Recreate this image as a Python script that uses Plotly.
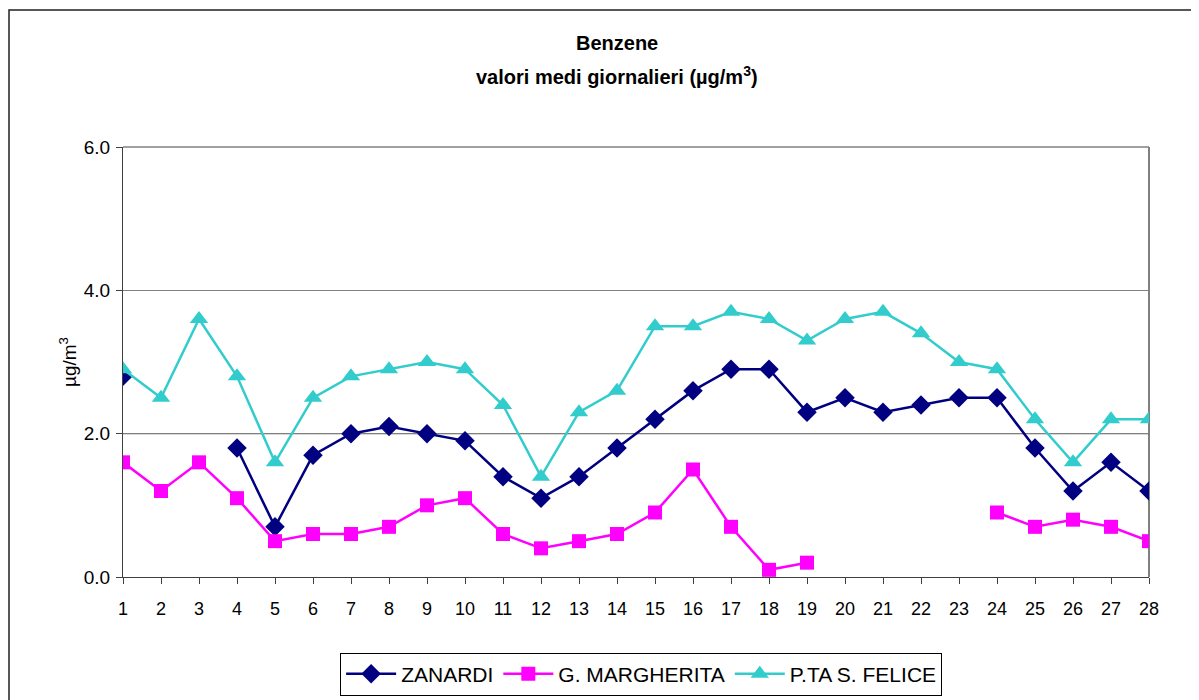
import plotly.graph_objects as go

days = list(range(1, 29))
zanardi = [2.8, None, None, 1.8, 0.7, 1.7, 2.0, 2.1, 2.0, 1.9, 1.4, 1.1, 1.4, 1.8,
           2.2, 2.6, 2.9, 2.9, 2.3, 2.5, 2.3, 2.4, 2.5, 2.5, 1.8, 1.2, 1.6, 1.2]
margherita = [1.6, 1.2, 1.6, 1.1, 0.5, 0.6, 0.6, 0.7, 1.0, 1.1, 0.6, 0.4, 0.5, 0.6,
              0.9, 1.5, 0.7, 0.1, 0.2, None, None, None, None, 0.9, 0.7, 0.8, 0.7, 0.5]
felice = [2.9, 2.5, 3.6, 2.8, 1.6, 2.5, 2.8, 2.9, 3.0, 2.9, 2.4, 1.4, 2.3, 2.6,
          3.5, 3.5, 3.7, 3.6, 3.3, 3.6, 3.7, 3.4, 3.0, 2.9, 2.2, 1.6, 2.2, 2.2]
y_ticks = [0, 2, 4, 6]
y_tick_labels = ["0.0", "2.0", "4.0", "6.0"]

FONT = "Arial, Liberation Sans, sans-serif"

fig = go.Figure()
fig.add_trace(go.Scatter(x=days, y=zanardi, name="ZANARDI", mode="lines+markers",
                         line=dict(color="#000080", width=2.5),
                         marker=dict(symbol="diamond", size=15, color="#000080")))
fig.add_trace(go.Scatter(x=days, y=margherita, name="G. MARGHERITA", mode="lines+markers",
                         line=dict(color="#FF00FF", width=2.5),
                         marker=dict(symbol="square", size=14, color="#FF00FF")))
fig.add_trace(go.Scatter(x=days, y=felice, name="P.TA S. FELICE", mode="lines+markers",
                         line=dict(color="#33CCCC", width=2.5),
                         marker=dict(symbol="triangle-up", size=16, color="#33CCCC")))

fig.update_layout(
    width=1191, height=700,
    margin=dict(l=115, r=50, t=139, b=131, autoexpand=False),
    paper_bgcolor="white", plot_bgcolor="white",
    font=dict(family=FONT, size=18, color="black"),
    showlegend=True,
    legend=dict(orientation="h", x=0.505, xanchor="center", y=-0.176, yanchor="top",
                bgcolor="white", bordercolor="black", borderwidth=1,
                font=dict(family=FONT, size=21, color="black"),
                itemwidth=50, tracegroupgap=0),
    xaxis=dict(range=[1, 28], tickmode="array", tickvals=days,
               ticktext=[str(d) for d in days],
               showgrid=False, zeroline=False, showline=True, linecolor="#404040",
               linewidth=1, ticks="outside", ticklen=6, tickcolor="#404040",
               ticklabelstandoff=9,
               tickfont=dict(family=FONT, size=18)),
    yaxis=dict(range=[0, 6], tickmode="array", tickvals=y_ticks, ticktext=y_tick_labels,
               showgrid=True, gridcolor="#808080", gridwidth=1, zeroline=False,
               showline=True, linecolor="#404040", linewidth=1,
               ticks="outside", ticklen=6, tickcolor="#404040",
               ticklabelstandoff=2,
               tickfont=dict(family=FONT, size=19),
               title=dict(text="µg/m<sup>3</sup>", standoff=2,
                          font=dict(family=FONT, size=19))),
    annotations=[
        dict(text="<b>Benzene</b>", xref="paper", yref="paper", x=0.4815, y=1 + (139 - 35) / 430,
             xanchor="center", yanchor="middle", showarrow=False,
             font=dict(family=FONT, size=20, color="black")),
        dict(text="<b>valori medi giornalieri (µg/m<sup>3</sup>)</b>", xref="paper", yref="paper",
             x=0.4815, y=1 + (139 - 67) / 430, xanchor="center", yanchor="middle",
             showarrow=False, font=dict(family=FONT, size=20, color="black")),
    ],
)

# plot-area border (top, right) and black reference line at 2.0
fig.add_shape(type="line", xref="x domain", yref="y domain", x0=0, x1=1, y0=1, y1=1,
              line=dict(color="#808080", width=1.5), layer="below")
fig.add_shape(type="line", xref="x domain", yref="y domain", x0=1, x1=1, y0=0, y1=1,
              line=dict(color="#808080", width=2), layer="below")
fig.add_shape(type="line", xref="x domain", yref="y", x0=0, x1=1, y0=2, y1=2,
              line=dict(color="black", width=1), layer="below")
# outer chart border
fig.add_shape(type="rect", xref="paper", yref="paper", x0=-0.1111, x1=1.08,
              y0=-0.36, y1=1.3186, line=dict(color="#202020", width=1.5))

fig.write_html("out.html")
